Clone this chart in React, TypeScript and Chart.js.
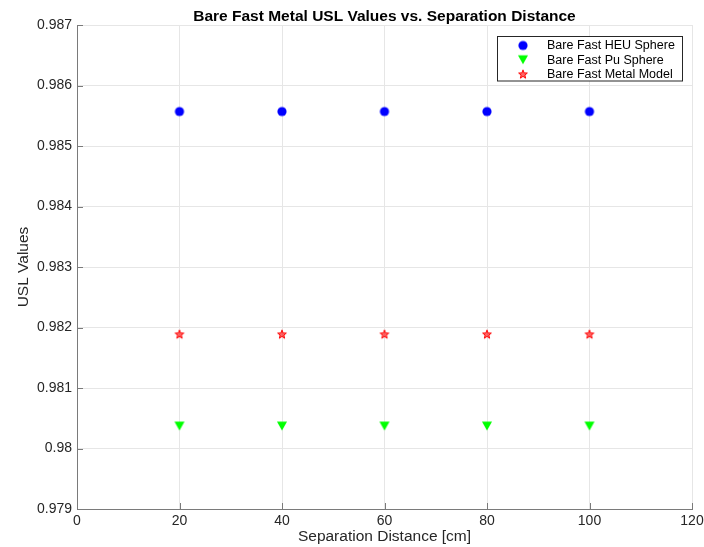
import React, { useEffect, useRef } from "react";
import { Chart, registerables } from "chart.js";

Chart.register(...registerables);

const chartTitle = "Bare Fast Metal USL Values vs. Separation Distance";
const xAxisTitle = "Separation Distance [cm]";
const yAxisTitle = "USL Values";

const separation = [20, 40, 60, 80, 100];
const heuSphere = [0.98557, 0.98557, 0.98557, 0.98557, 0.98557];
const puSphere = [0.98037, 0.98037, 0.98037, 0.98037, 0.98037];
const metalModel = [0.98189, 0.98189, 0.98189, 0.98189, 0.98189];

const seriesLabels = ["Bare Fast HEU Sphere", "Bare Fast Pu Sphere", "Bare Fast Metal Model"];
const seriesColors = ["#0000ff", "#00ff00", "#ff0000"];

const xMin = 0, xMax = 120, xStep = 20;
const yMin = 0.979, yMax = 0.987, yStep = 0.001;

const FONT = "'Liberation Sans', Arial, Helvetica, sans-serif";
const AXIS_COLOR = "#7a7a7a";
const TEXT_COLOR = "#262626";
const GRID_COLOR = "#e6e6e6";

function makeMarker(kind: string, color: string): HTMLCanvasElement {
  const c = document.createElement("canvas");
  c.width = 12;
  c.height = 12;
  const ctx = c.getContext("2d")!;
  ctx.fillStyle = color;
  ctx.strokeStyle = color;
  ctx.beginPath();
  if (kind === "circle") {
    ctx.arc(6, 6, 4.6, 0, Math.PI * 2);
    ctx.fill();
  } else if (kind === "tri") {
    ctx.moveTo(1, 1.5);
    ctx.lineTo(11, 1.5);
    ctx.lineTo(6, 10.5);
    ctx.closePath();
    ctx.fill();
  } else {
    for (let i = 0; i < 10; i++) {
      const r = i % 2 === 0 ? 4.6 : 1.9;
      const a = -Math.PI / 2 + (i * Math.PI) / 5;
      const px = 6 + r * Math.cos(a);
      const py = 6.4 + r * Math.sin(a);
      if (i === 0) ctx.moveTo(px, py);
      else ctx.lineTo(px, py);
    }
    ctx.closePath();
    ctx.lineWidth = 1;
    ctx.globalAlpha = 0.6;
    ctx.fill();
    ctx.globalAlpha = 1;
    ctx.stroke();
  }
  return c;
}

export default function App() {
  const ref = useRef<HTMLCanvasElement | null>(null);

  useEffect(() => {
    if (!ref.current) return;
    const markers = [
      makeMarker("circle", seriesColors[0]),
      makeMarker("tri", seriesColors[1]),
      makeMarker("star", seriesColors[2]),
    ];
    const values = [heuSphere, puSphere, metalModel];

    const titlePlugin = {
      id: "matTitle",
      afterDraw(chart: any) {
        const { ctx, chartArea } = chart;
        ctx.save();
        ctx.font = `bold 15.5px ${FONT}`;
        ctx.fillStyle = "#000";
        ctx.textAlign = "center";
        ctx.textBaseline = "alphabetic";
        ctx.fillText(chartTitle, (chartArea.left + chartArea.right) / 2, 20.7);
        ctx.restore();
      },
    };

    const tickPlugin = {
      id: "inTicks",
      afterDatasetsDraw(chart: any) {
        const { ctx, chartArea, scales } = chart;
        ctx.save();
        ctx.strokeStyle = AXIS_COLOR;
        ctx.lineWidth = 1;
        ctx.beginPath();
        scales.x.ticks.forEach((t: any) => {
          const px = Math.round(scales.x.getPixelForValue(t.value)) + 0.5;
          ctx.moveTo(px, chartArea.bottom);
          ctx.lineTo(px, chartArea.bottom - 6);
        });
        scales.y.ticks.forEach((t: any) => {
          const py = Math.round(scales.y.getPixelForValue(t.value)) + 0.5;
          ctx.moveTo(chartArea.left, py);
          ctx.lineTo(chartArea.left + 6, py);
        });
        ctx.stroke();
        ctx.restore();
      },
    };

    const legendPlugin = {
      id: "matLegend",
      afterDraw(chart: any) {
        const { ctx } = chart;
        const bx = 497.5, by = 36.5, bw = 185, bh = 44.5;
        ctx.save();
        ctx.fillStyle = "#fff";
        ctx.fillRect(bx, by, bw, bh);
        ctx.strokeStyle = "#262626";
        ctx.lineWidth = 1;
        ctx.strokeRect(bx, by, bw, bh);
        ctx.font = `12.5px ${FONT}`;
        ctx.fillStyle = "#000";
        ctx.textAlign = "left";
        ctx.textBaseline = "middle";
        chart.data.datasets.forEach((ds: any, i: number) => {
          const cy = 45.5 + i * 14.3;
          const m = ds.pointStyle as HTMLCanvasElement;
          ctx.drawImage(m, 523 - m.width / 2, cy - m.height / 2);
          ctx.fillText(ds.label, 547, cy + 0.5);
        });
        ctx.restore();
      },
    };

    const chart = new Chart(ref.current, {
      type: "scatter",
      data: {
        datasets: seriesLabels.map((label, i) => ({
          label,
          data: separation.map((x, j) => ({ x, y: values[i][j] })),
          pointStyle: markers[i] as any,
          pointRadius: 5,
          backgroundColor: seriesColors[i],
          borderColor: seriesColors[i],
          showLine: false,
        })),
      },
      options: {
        responsive: false,
        animation: false,
        events: [],
        layout: { padding: { top: 25, right: 12, bottom: 0, left: 0 } },
        plugins: {
          legend: { display: false },
          title: { display: false },
          tooltip: { enabled: false },
        },
        scales: {
          x: {
            type: "linear",
            min: xMin,
            max: xMax,
            afterFit(scale: any) {
              scale.height = 38;
              scale.paddingLeft = 0;
              scale.paddingRight = 0;
            },
            ticks: {
              stepSize: xStep,
              color: TEXT_COLOR,
              font: { family: FONT, size: 14 },
              padding: 4,
              maxRotation: 0,
            },
            grid: { color: GRID_COLOR, drawTicks: false, tickLength: 0 },
            border: { color: AXIS_COLOR, width: 1 },
            title: {
              display: true,
              text: xAxisTitle,
              color: TEXT_COLOR,
              font: { family: FONT, size: 15.5 },
              padding: { top: 0, bottom: 1 },
            },
          },
          y: {
            type: "linear",
            min: yMin,
            max: yMax,
            afterFit(scale: any) {
              scale.width = 77;
              scale.paddingTop = 0;
              scale.paddingBottom = 0;
            },
            ticks: {
              stepSize: yStep,
              color: TEXT_COLOR,
              font: { family: FONT, size: 14 },
              padding: 5,
              callback: (v: any) => String(parseFloat(Number(v).toFixed(3))),
            },
            grid: { color: GRID_COLOR, drawTicks: false, tickLength: 0 },
            border: { color: AXIS_COLOR, width: 1 },
            title: {
              display: true,
              text: yAxisTitle,
              color: TEXT_COLOR,
              font: { family: FONT, size: 15.5 },
              padding: { top: 14, bottom: 0 },
            },
          },
        },
      },
      plugins: [titlePlugin, tickPlugin, legendPlugin],
    });
    return () => chart.destroy();
  }, []);

  return (
    <div style={{ position: "absolute", left: 0, top: 0, width: 704, height: 547, background: "#fff" }}>
      <canvas ref={ref} width={704} height={547} style={{ display: "block" }} />
    </div>
  );
}
